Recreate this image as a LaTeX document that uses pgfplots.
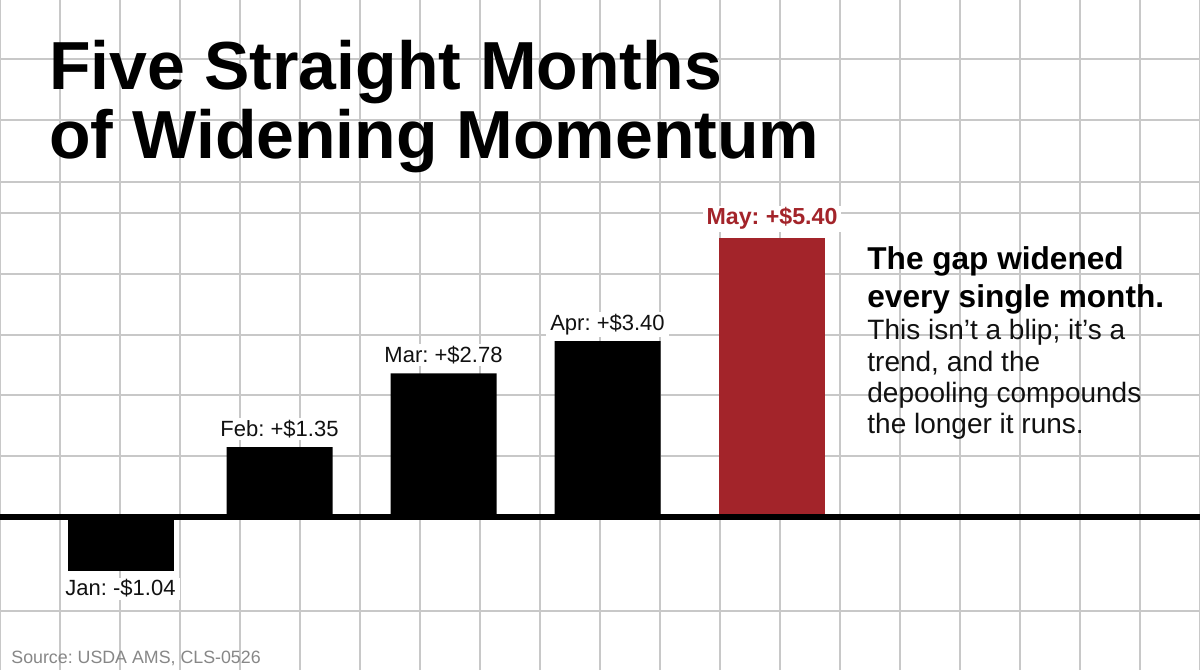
\documentclass[border=0pt]{standalone}
\usepackage{pgfplots}
\pgfplotsset{compat=1.18}
\usepackage{fontspec}
\setmainfont{Liberation Sans}
\frenchspacing
\definecolor{gridc}{RGB}{200,200,200}
\definecolor{barred}{RGB}{163,36,42}
\definecolor{srcgray}{RGB}{135,135,135}
\definecolor{ink}{RGB}{17,17,17}
\begin{document}
\begin{tikzpicture}
\fill[white] (0,0) rectangle (600pt,335pt);
\begin{axis}[
  at={(0,0)}, anchor=south west,
  scale only axis, width=600pt, height=335pt,
  xmin=0, xmax=1200, ymin=-2.959, ymax=10.0,
  axis line style={draw=none},
  tick style={draw=none},
  xtick={0,60,...,1200},
  ytick={-1.818,1.180,2.360,3.520,4.700,5.880,6.480,7.679,8.859},
  xticklabels={}, yticklabels={},
  grid=major,
  major grid style={gridc, line width=0.8pt},
  clip=false,
]
% Feb, Mar, Apr
\addplot[ybar, bar width=106, bar shift=0pt, fill=black, draw=none,
  point meta=explicit symbolic, nodes near coords,
  nodes near coords align={anchor=base},
  nodes near coords style={yshift=5.5pt, font=\fontsize{11}{13}\selectfont, text=ink,
    fill=white, inner xsep=2pt, inner ysep=1pt}]
  coordinates {(279.5,1.35) [Feb: +\$1.35] (443.5,2.78) [Mar: +\$2.78] (607.5,3.40) [Apr: +\$3.40]};
% Jan
\addplot[ybar, bar width=106, bar shift=0pt, fill=black, draw=none,
  point meta=explicit symbolic, nodes near coords,
  nodes near coords align={anchor=base},
  nodes near coords style={yshift=-12.6pt, font=\fontsize{11}{13}\selectfont, text=ink,
    fill=white, inner xsep=2pt, inner ysep=1pt}]
  coordinates {(120.5,-1.04) [Jan: -\$1.04]};
% May
\addplot[ybar, bar width=106, bar shift=0pt, fill=barred, draw=none,
  point meta=explicit symbolic, nodes near coords,
  nodes near coords align={anchor=base},
  nodes near coords style={yshift=6.5pt, font=\fontsize{11.6}{13}\selectfont\bfseries, text=barred,
    fill=white, inner xsep=2pt, inner ysep=1pt}]
  coordinates {(772,5.40) [May: +\$5.40]};
\draw[black, line width=2.8pt] (axis cs:0,0) -- (axis cs:1200,0);
\end{axis}
% title
\node[anchor=base west, inner sep=0, font=\fontsize{34}{34}\selectfont\bfseries] at (24.5pt,290pt) {Five Straight Months};
\node[anchor=base west, inner sep=0, font=\fontsize{34}{34}\selectfont\bfseries] at (24.5pt,255.85pt) {of Widening Momentum};
% annotation
\node[anchor=base west, inner sep=0, font=\fontsize{15.8}{17}\selectfont\bfseries] at (433.5pt,200.35pt) {The gap widened};
\node[anchor=base west, inner sep=0, font=\fontsize{15.8}{17}\selectfont\bfseries] at (433.5pt,181.35pt) {every single month.};
\node[anchor=base west, inner sep=0, font=\fontsize{14}{16}\selectfont, text=ink] at (433.5pt,165pt) {This isn’t a blip; it’s a};
\node[anchor=base west, inner sep=0, font=\fontsize{14}{16}\selectfont, text=ink] at (433.5pt,149.15pt) {trend, and the};
\node[anchor=base west, inner sep=0, font=\fontsize{14}{16}\selectfont, text=ink] at (433.5pt,133.65pt) {depooling compounds};
\node[anchor=base west, inner sep=0, font=\fontsize{14}{16}\selectfont, text=ink] at (433.5pt,118pt) {the longer it runs.};
% source
\node[anchor=base west, inner sep=0, font=\fontsize{8.9}{10}\selectfont, text=srcgray] at (5.5pt,3.5pt) {Source: USDA AMS, CLS-0526};
\pgfresetboundingbox
\useasboundingbox (0,0) rectangle (600pt,335pt);
\end{tikzpicture}
\end{document}
